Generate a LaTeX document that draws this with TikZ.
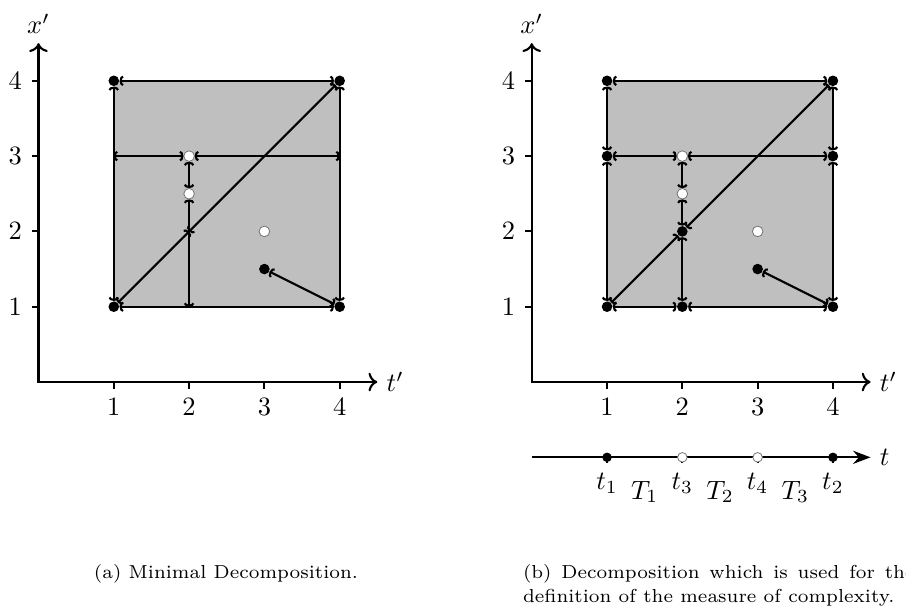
\documentclass[tikz,border=0pt]{standalone}
\usepackage{amsmath, amssymb}
\usepackage{tikz}
\usetikzlibrary{arrows.meta, positioning}
\tikzstyle{fulldot} = [circle, fill=black, inner sep=0pt, minimum size=4pt]
\tikzstyle{opendot} = [circle, fill=white, draw=black!55, line width=0.3pt,
                       inner sep=0pt, minimum size=4pt]
\tikzstyle{seg}     = [thick, {Arc Barb[length=1.3pt, width=4pt]}-{Arc Barb[length=1.3pt, width=4pt]}]
\tikzstyle{axes}    = [thick, <->]
\tikzstyle{tickmark}= [thick]
\tikzstyle{region}  = [fill=black!25, draw=none]
\tikzstyle{capt}    = [font=\fontsize{7.1}{9.1}\selectfont, align=left]

\begin{document}
\begin{tikzpicture}

    \useasboundingbox (-0.511,-3.068) rectangle (11.52,5.073);
    \clip (-0.511,-3.068) rectangle (11.52,5.073);

    % ── (a) minimal decomposition ──────────────────────────────────────────
    \coordinate (ao) at (0,0);
    \coordinate (ax) at (4.5,0);
    \coordinate (ay) at (0,4.5);
    \draw [axes] (ay) -- (ao) -- (ax);
    \node (atl) [right] at (ax) {$t'$};
    \node (axl) [above] at (ay) {$x'$};
    \foreach \i in {1,...,4} {
        \draw [tickmark] (\i,0) -- (\i,-0.09) node (atk\i) [below] {$\i$};
        \draw [tickmark] (0,\i) -- (-0.09,\i) node (axk\i) [left] {$\i$};
    }

    \fill [region] (1,1) rectangle (4,4);

    \node (a11)  [fulldot] at (1,1)   {};
    \node (a14)  [fulldot] at (1,4)   {};
    \node (a41)  [fulldot] at (4,1)   {};
    \node (a44)  [fulldot] at (4,4)   {};
    \node (a23)  [opendot] at (2,3)   {};
    \node (a225) [opendot] at (2,2.5) {};
    \node (a32)  [opendot] at (3,2)   {};
    \node (a315) [fulldot] at (3,1.5) {};
    \coordinate (a13) at (1,3);
    \coordinate (a43) at (4,3);
    \coordinate (a21) at (2,1);
    \coordinate (a22) at (2,2);

    \draw [seg] (a14) -- (a44);
    \draw [seg] (a14) -- (a11);
    \draw [seg] (a44) -- (a41);
    \draw [seg] (a11) -- (a41);
    \draw [seg] (a13) -- (a23);
    \draw [seg] (a23) -- (a43);
    \draw [seg] (a23) -- (a225);
    \draw [seg] (a225) -- (a21);
    \draw [seg] (a11) -- (a22);
    \draw [seg] (a22) -- (a44);
    \draw [seg] (a41) -- (a315);

    \node (capa) [capt] at (2.49,-2.54) {(a) Minimal Decomposition.};

    % ── (b) decomposition for the measure ──────────────────────────────────
    \begin{scope}[xshift=6.55cm]
    \coordinate (bo) at (0,0);
    \coordinate (bx) at (4.5,0);
    \coordinate (by) at (0,4.5);
    \draw [axes] (by) -- (bo) -- (bx);
    \node (btl) [right] at (bx) {$t'$};
    \node (bxl) [above] at (by) {$x'$};
    \foreach \i in {1,...,4} {
        \draw [tickmark] (\i,0) -- (\i,-0.09) node (btk\i) [below] {$\i$};
        \draw [tickmark] (0,\i) -- (-0.09,\i) node (bxk\i) [left] {$\i$};
    }

    \fill [region] (1,1) rectangle (4,4);

    \node (b11)  [fulldot] at (1,1)   {};
    \node (b13)  [fulldot] at (1,3)   {};
    \node (b14)  [fulldot] at (1,4)   {};
    \node (b21)  [fulldot] at (2,1)   {};
    \node (b22)  [fulldot] at (2,2)   {};
    \node (b41)  [fulldot] at (4,1)   {};
    \node (b43)  [fulldot] at (4,3)   {};
    \node (b44)  [fulldot] at (4,4)   {};
    \node (b23)  [opendot] at (2,3)   {};
    \node (b225) [opendot] at (2,2.5) {};
    \node (b32)  [opendot] at (3,2)   {};
    \node (b315) [fulldot] at (3,1.5) {};

    \draw [seg] (b14) -- (b44);
    \draw [seg] (b14) -- (b13);
    \draw [seg] (b13) -- (b11);
    \draw [seg] (b44) -- (b43);
    \draw [seg] (b43) -- (b41);
    \draw [seg] (b11) -- (b21);
    \draw [seg] (b21) -- (b41);
    \draw [seg] (b13) -- (b23);
    \draw [seg] (b23) -- (b43);
    \draw [seg] (b23) -- (b225);
    \draw [seg] (b225) -- (b22);
    \draw [seg] (b22) -- (b21);
    \draw [seg] (b11) -- (b22);
    \draw [seg] (b22) -- (b44);
    \draw [seg] (b41) -- (b315);

    % time line
    \coordinate (to) at (0,-1);
    \coordinate (te) at (4.5,-1);
    \draw [thick, -{Stealth}] (to) -- (te);
    \node (tl) [right] at (te) {$t$};
    \foreach \i/\lab in {1/t_1,2/t_3,3/t_4,4/t_2} {
        \draw [tickmark] (\i,-1) -- (\i,-1.08) node (tk\i) [below] {$\lab$};
    }
    \node (t1) [fulldot, minimum size=3.6pt] at (1,-1) {};
    \node (t3) [opendot, minimum size=3.6pt] at (2,-1) {};
    \node (t4) [opendot, minimum size=3.6pt] at (3,-1) {};
    \node (t2) [fulldot, minimum size=3.6pt] at (4,-1) {};
    \node (T1) at (1.5,-1.46) {$T_1$};
    \node (T2) at (2.5,-1.46) {$T_2$};
    \node (T3) at (3.5,-1.46) {$T_3$};
    \end{scope}

    \node (capb) [capt, anchor=west] at (6.31,-2.70)
        {\makebox[5.2cm][s]{(b) Decomposition which is used for the}\\
         definition of the measure of complexity.};

\end{tikzpicture}
\end{document}
